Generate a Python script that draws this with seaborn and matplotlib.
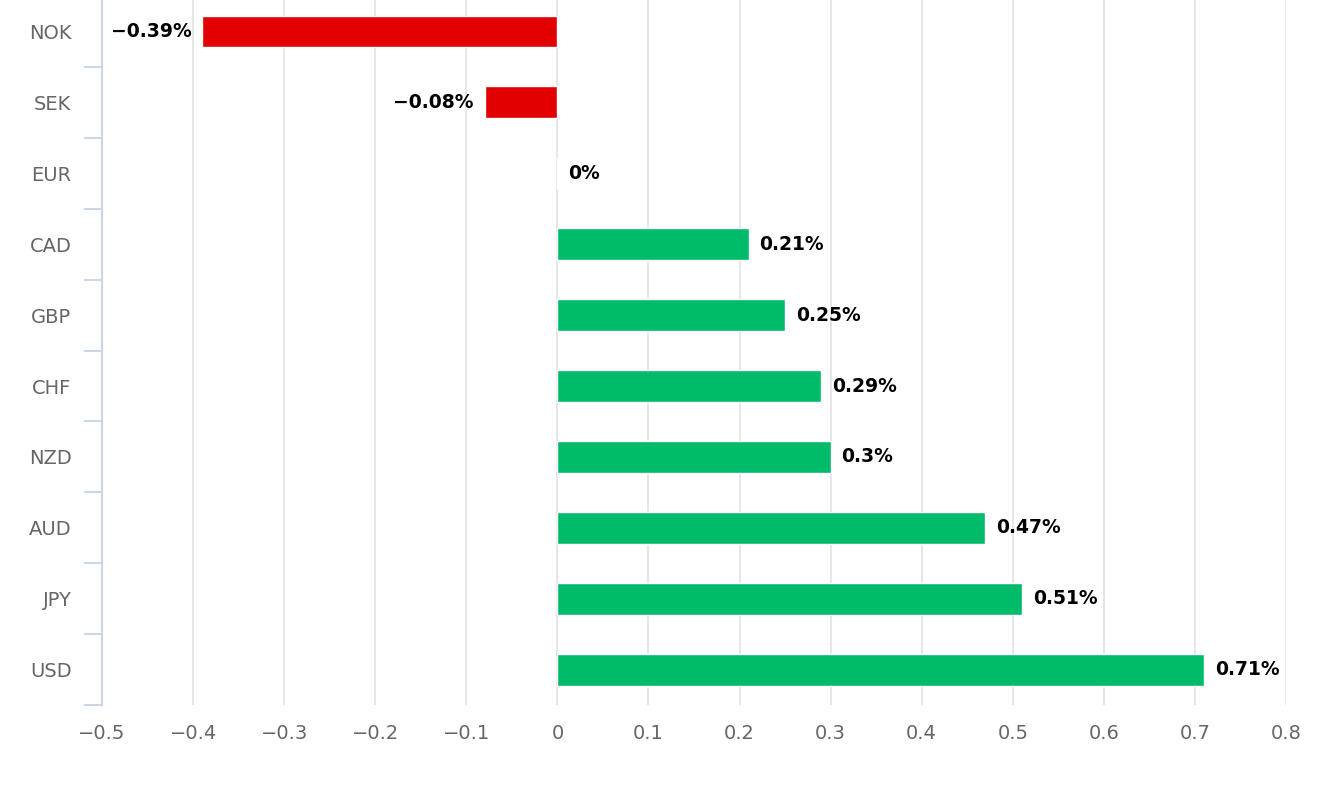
import numpy as np
import matplotlib.pyplot as plt
import seaborn as sns
import pandas as pd

currencies = ['NOK', 'SEK', 'EUR', 'CAD', 'GBP', 'CHF', 'NZD', 'AUD', 'JPY', 'USD']
changes = [-0.39, -0.08, 0.0, 0.21, 0.25, 0.29, 0.3, 0.47, 0.51, 0.71]
x_ticks = [-0.5, -0.4, -0.3, -0.2, -0.1, 0, 0.1, 0.2, 0.3, 0.4, 0.5, 0.6, 0.7, 0.8]

red = '#e20000'
green = '#00bb6a'
bar_colors = [red if v < 0 else green for v in changes]

sns.set_style('white')
plt.rcParams['font.family'] = ['DejaVu Sans']

df = pd.DataFrame({'Currency': currencies, 'Change': changes})

fig = plt.figure(figsize=(13.18, 7.86), dpi=100)
ax = fig.add_axes([0.0774, 0.103, 0.8983, 0.902])

sns.barplot(data=df, x='Change', y='Currency', hue='Currency', palette=bar_colors,
            orient='h', width=0.45, legend=False, ax=ax, saturation=1)

ax.set_xlim(-0.5, 0.8)
ax.set_ylim(9.5, -0.5)
ax.set_xticks(x_ticks)
ax.set_xticklabels(['0' if t == 0 else f'{t:g}'.replace('-', '\u2212') for t in x_ticks])
ax.set_xlabel('')
ax.set_ylabel('')

ax.grid(axis='x', color='#e0e0e6', linewidth=1.2)
ax.set_axisbelow(True)
for s in ['top', 'right', 'bottom']:
    ax.spines[s].set_visible(False)
ax.spines['left'].set_color('#ccd6eb')
ax.spines['left'].set_linewidth(1.5)

ax.set_yticks(np.arange(-0.5, 10, 1), minor=True)
ax.tick_params(axis='y', which='major', left=True, length=0, pad=22, labelsize=14,
               labelcolor='#666666')
ax.tick_params(axis='y', which='minor', left=True, length=13, color='#ccd6eb', width=1.5)
ax.tick_params(axis='x', length=0, pad=14, labelsize=14, labelcolor='#666666')

for i, v in enumerate(changes):
    txt = f'{v:g}%'.replace('-', '\u2212')
    if v < 0:
        ax.text(v - 0.012, i, txt, ha='right', va='center', fontsize=13.5,
                fontweight='bold', color='black')
    else:
        ax.text(v + 0.012, i, txt, ha='left', va='center', fontsize=13.5,
                fontweight='bold', color='black')

fig.savefig('out.png', dpi=100)
